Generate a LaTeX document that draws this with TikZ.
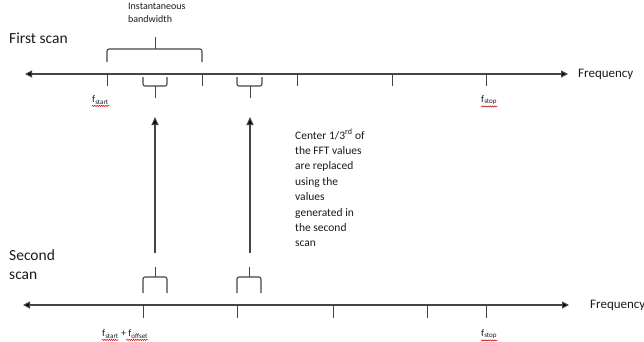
\documentclass[tikz,border=0pt]{standalone}
\usepackage{fontspec}
\setmainfont{Carlito}
\usetikzlibrary{arrows.meta,decorations.pathmorphing}
\definecolor{ln}{HTML}{454545}
\definecolor{tx}{HTML}{1A1A1A}
\tikzset{
  axisline/.style={draw=ln, line width=1.1pt, {Triangle[length=7pt,width=7pt,fill=black]}-{Triangle[length=7pt,width=7pt,fill=black]}},
  tickline/.style={draw=ln, line width=1pt},
  bracket/.style={draw=ln, line width=1.1pt, rounded corners=2pt},
  uparrow/.style={draw=ln, line width=1.1pt, -{Triangle[length=8pt,width=7pt,fill=black]}},
  bigtxt/.style={text=tx, font=\fontsize{15.5}{19}\selectfont, inner sep=0pt, align=left},
  freqtxt/.style={text=tx, font=\fontsize{13}{15}\selectfont, inner sep=0pt},
  smalltxt/.style={text=tx, font=\fontsize{10}{13}\selectfont, inner sep=0pt, align=left},
  midtxt/.style={text=tx, font=\fontsize{11.5}{15.4}\selectfont, inner sep=0pt, align=left},
  flabel/.style={text=tx, font=\fontsize{10}{12}\selectfont, inner sep=0pt},
  squiggle/.style={draw=red!80!black, line width=0.5pt, decorate, decoration={snake, amplitude=0.6pt, segment length=2.2pt}}
}
\begin{document}
\begin{tikzpicture}[x=1pt,y=-1pt]
\useasboundingbox (0,0) rectangle (644,341);
% ---- first scan axis
\coordinate (a1l) at (25,74);
\coordinate (a1r) at (568,74);
\draw[axisline] (a1l) -- (a1r);
\node[freqtxt, anchor=west] (freq1) at (578,74) {Frequency};
\foreach \x in {107,202,297,392,486} \draw[tickline] (\x,74) -- (\x,86);
% instantaneous bandwidth brace
\draw[bracket] (107,62) -- (107,49) -- (202,49) -- (202,62);
\draw[tickline] (155,49) -- (155,37);
\node[smalltxt, anchor=north west] (ibw) at (128,3) {Instantaneous\\bandwidth};
\node[bigtxt, anchor=west] (first) at (9,38) {First scan};
% small brackets under first axis
\draw[bracket] (143,77) -- (143,86) -- (167,86) -- (167,77);
\draw[tickline] (155,86) -- (155,98);
\draw[bracket] (237,77) -- (237,86) -- (262,86) -- (262,77);
\draw[tickline] (250,86) -- (250,98);
% labels first axis
\node[flabel, anchor=west] (fs1) at (92,100) {f\textsubscript{start}};
\draw[squiggle] ([yshift=-1.5pt]fs1.south west) -- ([yshift=-1.5pt]fs1.south east);
\node[flabel, anchor=west] (fp1) at (481,100) {f\textsubscript{stop}};
\draw[squiggle] ([yshift=-1.5pt]fp1.south west) -- ([yshift=-1.5pt]fp1.south east);
% vertical arrows
\coordinate (v1s) at (155,253); \coordinate (v1e) at (155,117);
\coordinate (v2s) at (250,253); \coordinate (v2e) at (250,117);
\draw[uparrow] (v1s) -- (v1e);
\draw[uparrow] (v2s) -- (v2e);
% explanation
\node[midtxt, anchor=north west] (expl) at (295,129) {Center 1/3\textsuperscript{rd} of\\the FFT values\\are replaced\\using the\\values\\generated in\\the second\\scan};
% ---- second scan
\node[bigtxt, anchor=west] (second) at (9,265) {Second\\scan};
\draw[bracket] (143,293) -- (143,277) -- (167,277) -- (167,293);
\draw[tickline] (155,277) -- (155,267);
\draw[bracket] (237,293) -- (237,277) -- (261,277) -- (261,293);
\draw[tickline] (249,277) -- (249,267);
\coordinate (a2l) at (23,305);
\coordinate (a2r) at (569,305);
\draw[axisline] (a2l) -- (a2r);
\node[freqtxt, anchor=west] (freq2) at (590,305) {Frequency};
\foreach \x in {143,237,333,427,486} \draw[tickline] (\x,305) -- (\x,318);
\node[flabel, anchor=west] (fs2) at (102,334) {f\textsubscript{start} + f\textsubscript{offset}};
\draw[squiggle] ([yshift=-1.5pt]fs2.south west) -- ([yshift=-1.5pt,xshift=-30pt]fs2.south east);
\draw[squiggle] ([yshift=-1.5pt,xshift=-22pt]fs2.south east) -- ([yshift=-1.5pt]fs2.south east);
\node[flabel, anchor=west] (fp2) at (481,334) {f\textsubscript{stop}};
\draw[squiggle] ([yshift=-1.5pt]fp2.south west) -- ([yshift=-1.5pt]fp2.south east);
\end{tikzpicture}
\end{document}
